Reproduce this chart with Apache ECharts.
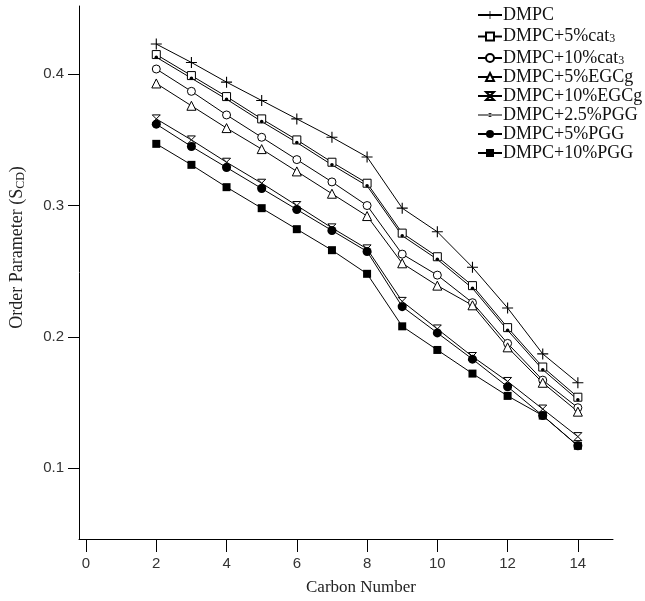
<!DOCTYPE html>
<html><head><meta charset="utf-8">
<script src="https://cdn.jsdelivr.net/npm/echarts@6/dist/echarts.min.js"></script>
<style>html,body{margin:0;padding:0;background:#fff}#c{width:645px;height:601px}</style>
</head><body><div id="c"></div>
<script>
const carbons = [2,3,4,5,6,7,8,9,10,11,12,13,14];
const xTicks = [0,2,4,6,8,10,12,14];
const yTicks = [0.1,0.2,0.3,0.4];
const seriesNames = ['DMPC','DMPC+5%cat3','DMPC+10%cat3','DMPC+5%EGCg','DMPC+10%EGCg','DMPC+2.5%PGG','DMPC+5%PGG','DMPC+10%PGG'];
const dmpc      = [0.423,0.409,0.394,0.380,0.366,0.352,0.337,0.298,0.280,0.253,0.222,0.187,0.165];
const cat5      = [0.415,0.399,0.383,0.366,0.350,0.333,0.317,0.279,0.261,0.239,0.207,0.177,0.154];
const cat10     = [0.404,0.387,0.369,0.352,0.335,0.318,0.300,0.263,0.247,0.226,0.195,0.167,0.146];
const egcg5     = [0.393,0.376,0.359,0.343,0.326,0.309,0.292,0.256,0.239,0.224,0.192,0.165,0.143];
const egcg10    = [0.366,0.350,0.333,0.317,0.300,0.283,0.267,0.227,0.206,0.185,0.166,0.145,0.124];
const pgg25     = [0.413,0.397,0.381,0.364,0.348,0.331,0.315,0.277,0.259,0.237,0.205,0.175,0.152];
const pgg5      = [0.362,0.345,0.329,0.313,0.297,0.281,0.265,0.223,0.203,0.183,0.162,0.140,0.117];
const pgg10     = [0.347,0.331,0.314,0.298,0.282,0.266,0.248,0.208,0.190,0.172,0.155,0.140,0.117];
const values = [dmpc,cat5,cat10,egcg5,egcg10,pgg25,pgg5,pgg10];

const PLUS = 'path://M4.5,0h1v4.5h4.5v1h-4.5v4.5h-1v-4.5h-4.5v-1h4.5z';
const HOUR = 'path://M0,0L10,0L5,5L10,10L0,10L5,5Z';
const DOT_LEGEND = 'path://M0,4.4h24v1.2h-24z M10,5a2,2 0 1,0 4,0a2,2 0 1,0 -4,0z';
const styles = [
  {symbol: PLUS, size: 11, fill: '#000', border: 0},
  {symbol: 'rect', size: 8, fill: '#fff', border: 1},
  {symbol: 'circle', size: 8, fill: '#fff', border: 1},
  {symbol: 'triangle', size: 9, fill: '#fff', border: 1},
  {symbol: HOUR, size: 8, fill: '#fff', border: 1},
  {symbol: 'circle', size: 3.5, fill: '#000', border: 0},
  {symbol: 'circle', size: 9, fill: '#000', border: 0},
  {symbol: 'rect', size: 8, fill: '#000', border: 0}
];

const series = seriesNames.map((n,i)=>({
  name: n, type: 'line',
  data: carbons.map((c,j)=>[c, values[i][j]]),
  symbol: styles[i].symbol, symbolSize: styles[i].size,
  showAllSymbol: true,
  lineStyle: {color: '#000', width: 1},
  itemStyle: {color: styles[i].fill, borderColor: '#000', borderWidth: styles[i].border},
  emphasis: {disabled: true},
  z: 2
}));

const legendData = seriesNames.map((n,i)=> i === 5
  ? {name: n, icon: DOT_LEGEND, itemStyle: {color: '#000', borderColor: '#000', borderWidth: 0, opacity: 1}}
  : {name: n});

const chart = echarts.init(document.getElementById('c'), null, {renderer: 'canvas'});
chart.setOption({
  animation: false,
  backgroundColor: '#fff',
  grid: {left: 78, right: 32, top: 6, bottom: 62},
  legend: {
    orient: 'vertical', left: 472, top: 1,
    itemWidth: 24, itemHeight: 10, itemGap: 1,
    data: legendData,
    formatter: function(n){
      if (n.indexOf('cat3') >= 0) return n.replace('cat3','cat') + '{s|3}';
      return n;
    },
    textStyle: {
      fontFamily: 'Liberation Serif', fontSize: 18, color: '#111', lineHeight: 17, padding: [0,0,0,-4],
      rich: {s: {fontFamily: 'Liberation Serif', fontSize: 12, color: '#111', verticalAlign: 'bottom', padding: [8,0,0,0], lineHeight: 17}}
    }
  },
  xAxis: {
    type: 'value', min: -0.2, max: 15,
    name: 'Carbon Number', nameLocation: 'middle', nameGap: 40,
    nameTextStyle: {fontFamily: 'Liberation Serif', fontSize: 17, color: '#222', padding: [0,0,0,30]},
    axisLine: {onZero: false, lineStyle: {color: '#000', width: 1}},
    axisTick: {show: true, length: 13, inside: false, customValues: xTicks, lineStyle: {color: '#000'}},
    axisLabel: {customValues: xTicks, margin: 17, fontFamily: 'Liberation Sans', fontSize: 15, color: '#333'},
    splitLine: {show: false}
  },
  yAxis: {
    type: 'value', min: 0.046, max: 0.452,
    name: 'Order Parameter (S{sub|CD})', nameLocation: 'middle', nameGap: 52, nameRotate: 90,
    nameTextStyle: {fontFamily: 'Liberation Serif', fontSize: 18, color: '#222', padding: [0,0,0,50],
      rich: {sub: {fontFamily: 'Liberation Serif', fontSize: 12, color: '#222', verticalAlign: 'bottom', padding: [8,0,0,0]}}},
    axisLine: {show: true, onZero: false, lineStyle: {color: '#000', width: 1}},
    axisTick: {show: true, length: 11, inside: false, customValues: yTicks, lineStyle: {color: '#000'}},
    axisLabel: {customValues: yTicks, margin: 15, fontFamily: 'Liberation Sans', fontSize: 15, color: '#333',
      formatter: v => v.toFixed(1)},
    splitLine: {show: false}
  },
  series: series
});
</script></body></html>
